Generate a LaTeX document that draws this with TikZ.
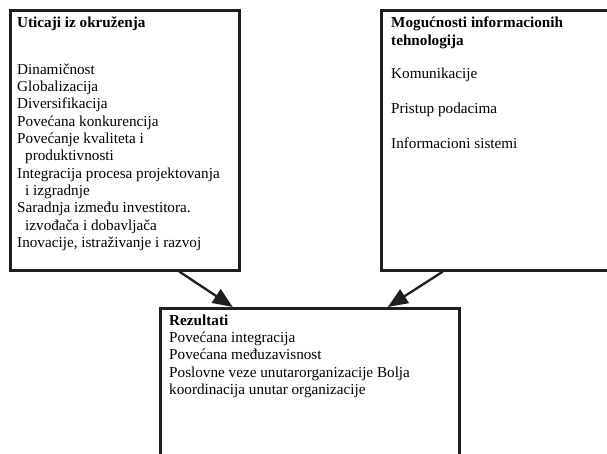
\documentclass[tikz,border=0pt]{standalone}
\usepackage{fontspec}
\setmainfont{Liberation Serif}
\usetikzlibrary{arrows.meta}
\begin{document}
\begin{tikzpicture}[x=1pt,y=-1pt,
  box/.style={draw=black!88, line width=2.6pt, anchor=north west, inner sep=0pt},
  txt/.style={anchor=base west, inner sep=0pt, font=\fontsize{15.2}{17.3}\selectfont},
  head/.style={txt, font=\fontsize{15.2}{17.3}\selectfont\bfseries},
  flow/.style={draw=black!88, line width=2.3pt,
    -{Triangle[length=20pt,width=16pt]}}]
\useasboundingbox (0,0) rectangle (607,454);
\clip (0,0) rectangle (607,454);

% three frames
\node[box, minimum width=229pt, minimum height=260pt] (env) at (9,9) {};
\node[box, minimum width=240pt, minimum height=260pt] (itc) at (380,9) {};
\node[box, minimum width=299pt, minimum height=170pt] (res) at (159,307) {};

% environmental influences
\node[head] (envT) at (17,28) {Uticaji iz okruženja};
\node[txt] (e1)  at (17,74.3)  {Dinamičnost};
\node[txt] (e2)  at (17,91.6)  {Globalizacija};
\node[txt] (e3)  at (17,108.9) {Diversifikacija};
\node[txt] (e4)  at (17,126.2) {Povećana konkurencija};
\node[txt] (e5)  at (17,143.5) {Povećanje kvaliteta i};
\node[txt] (e6)  at (25,160.8) {produktivnosti};
\node[txt] (e7)  at (17,178.1) {Integracija procesa projektovanja};
\node[txt] (e8)  at (25,195.4) {i izgradnje};
\node[txt] (e9)  at (17,212.7) {Saradnja između investitora.};
\node[txt] (e10) at (25,230.0) {izvođača i dobavljača};
\node[txt] (e11) at (17,247.3) {Inovacije, istraživanje i razvoj};

% IT capabilities
\node[head] (itcT1) at (391,28) {Mogućnosti informacionih};
\node[head] (itcT2) at (391,45.5) {tehnologija};
\node[txt] (i1) at (391,79)    {Komunikacije};
\node[txt] (i2) at (391,113.5) {Pristup podacima};
\node[txt] (i3) at (391,148.3) {Informacioni sistemi};

% results
\node[head] (resT) at (169,325) {Rezultati};
\node[txt] (r1) at (169,342.4) {Povećana integracija};
\node[txt] (r2) at (169,359.7) {Povećana međuzavisnost};
\node[txt] (r3) at (169,377.0) {Poslovne veze unutarorganizacije Bolja};
\node[txt] (r4) at (169,394.3) {koordinacija unutar organizacije};

% connectors
\draw[flow] ([xshift=54.5pt]env.south) -- ([xshift=-77pt]res.north);
\draw[flow] ([xshift=-58.5pt]itc.south) -- ([xshift=78pt]res.north);
\end{tikzpicture}
\end{document}
